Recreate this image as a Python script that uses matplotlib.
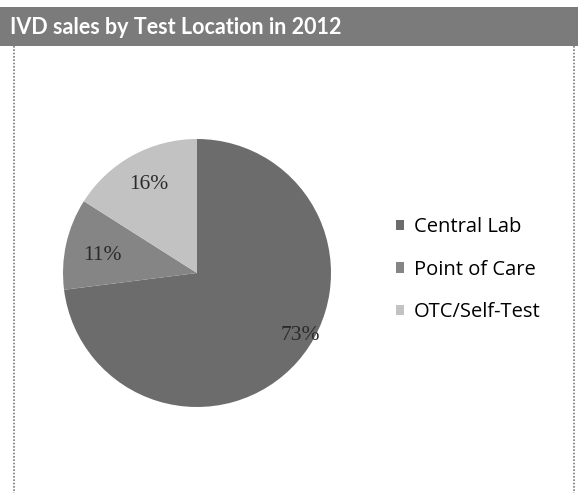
import numpy as np
import matplotlib
matplotlib.use("Agg")
import matplotlib.pyplot as plt
from matplotlib.patches import Rectangle
from matplotlib.lines import Line2D

# Data
categories = ["Central Lab", "Point of Care", "OTC/Self-Test"]
shares = [73, 11, 16]
title = "IVD sales by Test Location in 2012"
colors = ["#6c6c6c", "#858585", "#c2c2c2"]

W, H = 578, 493
fig = plt.figure(figsize=(W / 100, H / 100), dpi=100)
fig.patch.set_facecolor("white")

def fx(px):
    return px / W

def fy(py):
    return 1 - py / H

# Title bar
fig.patches.append(Rectangle((0, fy(46)), 1, (46 - 7) / H, transform=fig.transFigure,
                             facecolor="#7b7b7b", edgecolor="none", zorder=0))
fig.text(fx(10), fy(28), title, color="white", fontsize=15.5, fontweight="bold",
         family="Lato", va="center", ha="left")

# Dotted chart frame
for x in (14, 574):
    fig.lines.append(Line2D([fx(x), fx(x)], [fy(46), 0], transform=fig.transFigure,
                            color="#7a7a7a", lw=1.2, ls=(0, (1, 1))))

# Pie
cx, cy, r = 197, 273, 134
ax = fig.add_axes([fx(cx - r), fy(cy + r), 2 * r / W, 2 * r / H])
wedges, _ = ax.pie(shares, colors=colors, startangle=90, counterclock=False,
                   radius=1.0, wedgeprops=dict(linewidth=0))
ax.set_xlim(-1, 1)
ax.set_ylim(-1, 1)
ax.set_aspect("auto")
ax.axis("off")

label_dist = [0.9, 0.72, 0.75]
label_shift = [10, 2, 0]
for w, v, d, s in zip(wedges, shares, label_dist, label_shift):
    ang = np.deg2rad((w.theta1 + w.theta2) / 2 + s)
    ax.text(d * np.cos(ang), d * np.sin(ang), f"{v}%", ha="center", va="center",
            fontsize=15.5, family="Liberation Serif", color="#2a2a2a")

# Legend
handles = [Rectangle((0, 0), 1, 1, facecolor=c, edgecolor="none") for c in colors]
fig.legend(handles, categories, loc="upper left", bbox_to_anchor=(fx(396), fy(217)),
           frameon=False, prop=dict(family="Open Sans", size=14.5), handlelength=0.42,
           handleheight=0.42, handletextpad=0.45, labelspacing=1.12, borderpad=0,
           borderaxespad=0)

fig.savefig("out.png", dpi=100)
